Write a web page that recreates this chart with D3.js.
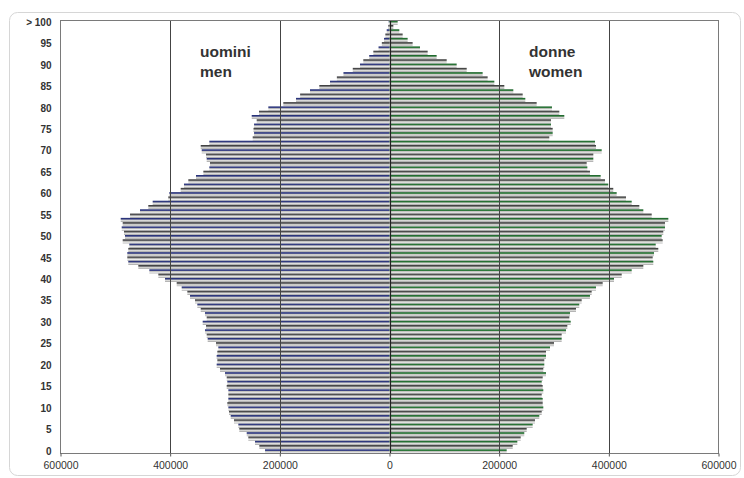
<!DOCTYPE html>
<html>
<head>
<meta charset="utf-8">
<script src="https://cdn.jsdelivr.net/npm/d3@7"></script>
<style>
  body { margin: 0; background: #fff; }
  svg { display: block; font-family: "Liberation Sans", Arial, sans-serif; }
</style>
</head>
<body>
<svg id="chart" width="744" height="478"></svg>
<script>
// Single-year age classes, 0 .. 100 (the top class stands for "> 100")
const ages = d3.range(0, 101);

// Resident population by age, men (uomini)
const men = [
  227000, 237400, 245300, 257500, 260400, 273900, 275700, 283600, 289600, 292700,
  293900, 295800, 293900, 293900, 293900, 296900, 295800, 296900, 300000, 309100,
  315200, 314000, 315200, 314000, 312200, 316400, 331600, 333400, 336500, 334600,
  340700, 333400, 336500, 344300, 350500, 354700, 363800, 368700, 379000, 388100,
  409400, 421600, 438000, 458100, 476400, 478200, 478200, 476400, 474500, 486600,
  482400, 484200, 488400, 486600, 490200, 473200, 455000, 439900, 431900, 403400,
  401600, 380800, 374800, 366900, 352900, 339500, 328600, 327400, 333400, 334600,
  342500, 344300, 328600, 249500, 247000, 248000, 247000, 242200, 251300, 238000,
  221000, 193700, 170500, 163000, 145000, 128000, 108500, 96000, 84000, 67000,
  53800, 47800, 37000, 29500, 20000, 14000, 10000, 7600, 5100, 2200,
  1500
];

// Resident population by age, women (donne)
const women = [
  213700, 224700, 233100, 239300, 245800, 250200, 261100, 265300, 273200, 277600,
  280500, 279400, 279400, 277600, 280500, 279400, 277600, 279400, 285400, 280500,
  282300, 282300, 285400, 285400, 292700, 300000, 314000, 314000, 321900, 324300,
  330500, 328000, 329200, 340100, 346100, 350500, 365600, 368700, 376600, 388800,
  409400, 423500, 441700, 462900, 481100, 480000, 482400, 490200, 485500, 498200,
  496400, 499300, 502400, 502400, 508500, 478200, 462900, 455600, 441700, 431300,
  414300, 408100, 399000, 393000, 385100, 365600, 360800, 359600, 371700, 371700,
  387000, 376600, 374800, 291400, 297600, 297600, 294500, 294500, 318800, 309700,
  296300, 268400, 247700, 242900, 225800, 209400, 191200, 179000, 169900, 140800,
  122500, 104300, 86000, 69600, 55600, 42200, 33100, 24000, 17900, 7000,
  14900
];

// Axis labels
const ageTicks = [0, 5, 10, 15, 20, 25, 30, 35, 40, 45, 50, 55, 60, 65, 70, 75, 80, 85, 90, 95, 100];
const ageTickLabels = ["0", "5", "10", "15", "20", "25", "30", "35", "40", "45", "50",
  "55", "60", "65", "70", "75", "80", "85", "90", "95", "> 100"];
const valueTicks = [-600000, -400000, -200000, 0, 200000, 400000, 600000];
const gridValues = [-400000, -200000, 200000, 400000];

const svg = d3.select("#chart");
const plot = { left: 60.5, right: 718.5, top: 20.5, bottom: 453.5 };

const x = d3.scaleLinear().domain([-600000, 600000]).range([plot.left, plot.right]);
const y = d3.scaleBand().domain(ages.slice().reverse())
  .range([plot.top, plot.bottom]).paddingInner(0.08).paddingOuter(0.05);

// Outer chart frame
svg.append("rect")
  .attr("x", 9.5).attr("y", 12.5).attr("width", 731).attr("height", 463)
  .attr("rx", 8).attr("fill", "#fff").attr("stroke", "#d6d6d6");

// Striped bar fills: a coloured or dark edge on top, fading to light grey
const defs = svg.append("defs");
function stripe(id, edge, mid) {
  const g = defs.append("linearGradient").attr("id", id)
    .attr("x1", 0).attr("y1", 0).attr("x2", 0).attr("y2", 1);
  [[0, edge], [0.3, mid], [0.55, "#c4c4c0"], [0.78, "#ececec"], [1, "#7c7c7c"]]
    .forEach(([o, c]) => g.append("stop").attr("offset", o).attr("stop-color", c));
}
stripe("menA", "#18246e", "#3c4488");
stripe("menB", "#2c2c2c", "#5c5c60");
stripe("womenA", "#155f24", "#2f7a3c");
stripe("womenB", "#2c2c2c", "#5c5e5c");

const bars = svg.append("g");
bars.selectAll("rect.m").data(ages).join("rect")
  .attr("class", "m")
  .attr("x", a => x(-men[a]))
  .attr("y", a => y(a))
  .attr("width", a => x(0) - x(-men[a]))
  .attr("height", y.bandwidth())
  .attr("fill", a => a % 2 === 0 ? "url(#menA)" : "url(#menB)");

bars.selectAll("rect.w").data(ages).join("rect")
  .attr("class", "w")
  .attr("x", x(0))
  .attr("y", a => y(a))
  .attr("width", a => x(women[a]) - x(0))
  .attr("height", y.bandwidth())
  .attr("fill", a => a % 2 === 0 ? "url(#womenA)" : "url(#womenB)");

// Vertical gridlines and the zero line
svg.append("g").selectAll("line").data(gridValues).join("line")
  .attr("x1", v => Math.round(x(v)) + 0.5).attr("x2", v => Math.round(x(v)) + 0.5)
  .attr("y1", plot.top).attr("y2", plot.bottom)
  .attr("stroke", "#444").attr("stroke-width", 1);

svg.append("line")
  .attr("x1", Math.round(x(0)) + 0.5).attr("x2", Math.round(x(0)) + 0.5)
  .attr("y1", plot.top).attr("y2", plot.bottom)
  .attr("stroke", "#222").attr("stroke-width", 1.2);

// Plot area border
svg.append("rect")
  .attr("x", plot.left).attr("y", plot.top)
  .attr("width", plot.right - plot.left).attr("height", plot.bottom - plot.top)
  .attr("fill", "none").attr("stroke", "#7a7a7a");

// Bottom axis: absolute population values
const xAxis = d3.axisBottom(x).tickValues(valueTicks)
  .tickFormat(v => String(Math.abs(v))).tickSize(3).tickPadding(5);
const gx = svg.append("g").attr("transform", `translate(0,${plot.bottom})`).call(xAxis);
gx.select(".domain").remove();
gx.selectAll(".tick line").attr("stroke", "#555");
gx.selectAll("text").attr("fill", "#333").style("font-size", "10.5px")
  .style("font-family", "'Liberation Sans', Arial, sans-serif");

// Left axis: age classes every five years
const yAxis = d3.axisLeft(y).tickValues(ageTicks)
  .tickFormat((a, i) => ageTickLabels[i]).tickSize(0).tickPadding(9);
const gy = svg.append("g").attr("transform", `translate(${plot.left},0)`).call(yAxis);
gy.select(".domain").remove();
gy.selectAll("text").attr("fill", "#333").style("font-size", "10px").style("font-weight", "bold")
  .style("font-family", "'Liberation Sans', Arial, sans-serif");

// Series titles inside the plot
const titles = [
  { lines: ["uomini", "men"], x: 200 },
  { lines: ["donne", "women"], x: 529 }
];
titles.forEach(t => {
  svg.append("text").attr("x", t.x).attr("y", 57)
    .attr("fill", "#333").style("font-size", "15.5px").style("font-weight", "bold")
    .selectAll("tspan").data(t.lines).join("tspan")
    .attr("x", t.x).attr("dy", (d, i) => i === 0 ? 0 : 19.5)
    .text(d => d);
});
</script>
</body>
</html>
